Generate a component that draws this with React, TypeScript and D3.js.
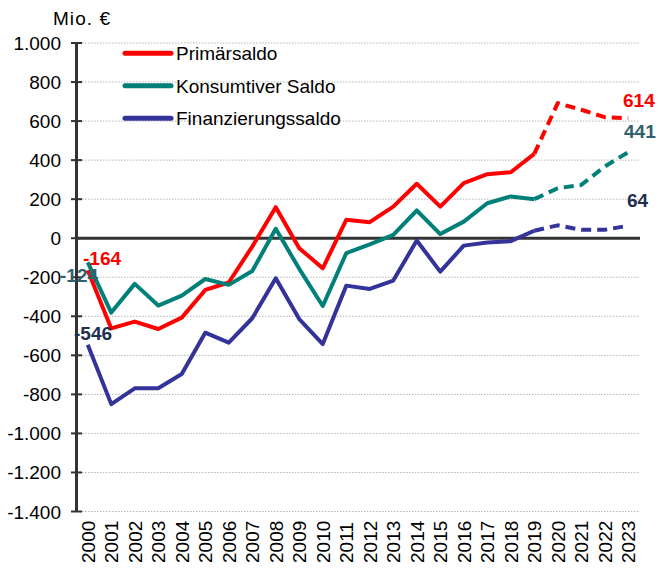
import React from "react";
import * as d3 from "d3";

const years = ["2000","2001","2002","2003","2004","2005","2006","2007","2008","2009","2010","2011","2012","2013","2014","2015","2016","2017","2018","2019","2020","2021","2022","2023"];
const primaersaldo = [-164,-462,-427,-465,-407,-265,-227,-43,159,-51,-154,94,82,162,279,162,282,328,338,432,692,658,620,614];
const konsumtiverSaldo = [-124,-381,-234,-345,-294,-209,-239,-168,48,-157,-347,-77,-31,17,142,21,85,179,214,200,256,273,367,441];
const finanzierungssaldo = [-546,-850,-769,-769,-696,-484,-535,-410,-205,-414,-542,-243,-260,-217,-12,-171,-38,-22,-15,38,66,43,43,64];
const yTicks = [1000,800,600,400,200,0,-200,-400,-600,-800,-1000,-1200,-1400];
const seriesNames = ["Primärsaldo","Konsumtiver Saldo","Finanzierungssaldo"];
const forecastStart = "2019";

const W = 658, H = 568;
const FONT = "'Liberation Sans', Arial, sans-serif";
const FS = 19;
const lineColors = ["#FF0000", "#008079", "#333399"];
const labelColors = ["#FF0000", "#31606E", "#1F2F4F"];

const fmt = (v: number) => {
  const s = Math.abs(v).toString().replace(/\B(?=(\d{3})+(?!\d))/g, ".");
  return (v < 0 ? "-" : "") + s;
};

export default function App() {
  const x = d3.scalePoint<string>().domain(years).range([76, 640]).padding(0.5);
  const y = d3.scaleLinear().domain([-1400, 1000]).range([511.5, 43]);
  const allSeries = [primaersaldo, konsumtiverSaldo, finanzierungssaldo];
  const split = years.indexOf(forecastStart);
  const lineOffset = (offset: number) =>
    d3.line<number>().x((_, i) => x(years[i + offset]) as number).y((d) => y(d));

  return (
    <svg width={W} height={H} style={{ position: "absolute", left: 0, top: 0, background: "#fff" }} fontFamily={FONT}>
      {/* gridlines */}
      {yTicks.filter((t) => t !== 0).map((t) => (
        <line key={"g" + t} x1={76} x2={640} y1={y(t)} y2={y(t)} stroke="#b5b5b5" strokeWidth={1} strokeDasharray="1.5,1.5" />
      ))}
      {/* y axis */}
      <line x1={76.5} x2={76.5} y1={y(1000)} y2={y(-1400)} stroke="#333" strokeWidth={3} />
      {yTicks.map((t) => (
        <g key={"t" + t}>
          <line x1={71} x2={82} y1={y(t)} y2={y(t)} stroke="#333" strokeWidth={2} />
          <text x={61} y={y(t) + 7} textAnchor="end" fontSize={FS} fill="#000">{fmt(t)}</text>
        </g>
      ))}
      <text x={53} y={25} fontSize={FS} fill="#000" textLength={57}>Mio. €</text>
      {/* x labels */}
      {years.map((yr) => (
        <text key={yr} transform={`translate(${(x(yr) as number) + 7},563) rotate(-90)`} fontSize={FS} fill="#000">{yr}</text>
      ))}
      {/* zero line */}
      <line x1={76} x2={640} y1={y(0)} y2={y(0)} stroke="#333" strokeWidth={3} />
      {/* series */}
      {allSeries.map((s, k) => (
        <g key={"s" + k}>
          <path d={lineOffset(0)(s.slice(0, split + 1)) as string} fill="none" stroke={lineColors[k]} strokeWidth={4} strokeLinejoin="round" />
          <path d={lineOffset(split)(s.slice(split)) as string} fill="none" stroke={lineColors[k]} strokeWidth={4} strokeDasharray="10,6" strokeLinejoin="round" />
        </g>
      ))}
      {/* legend */}
      {seriesNames.map((n, k) => (
        <g key={"l" + k}>
          <line x1={125} x2={171} y1={53.3 + k * 32.5} y2={53.3 + k * 32.5} stroke={lineColors[k]} strokeWidth={5} strokeLinecap="round" />
          <text x={176} y={53.3 + k * 32.5 + 7} fontSize={FS} fill="#000">{n}</text>
        </g>
      ))}
      {/* data labels */}
      <text x={83} y={265} fontSize={FS} fontWeight="bold" fill={labelColors[0]}>{fmt(primaersaldo[0])}</text>
      <text x={60} y={282} fontSize={FS} fontWeight="bold" fill={labelColors[1]}>{fmt(konsumtiverSaldo[0])}</text>
      <text x={74} y={340} fontSize={FS} fontWeight="bold" fill={labelColors[2]}>{fmt(finanzierungssaldo[0])}</text>
      <text x={623} y={107} fontSize={FS} fontWeight="bold" fill={labelColors[0]}>{fmt(primaersaldo[23])}</text>
      <text x={624} y={138} fontSize={FS} fontWeight="bold" fill={labelColors[1]}>{fmt(konsumtiverSaldo[23])}</text>
      <text x={627} y={207} fontSize={FS} fontWeight="bold" fill={labelColors[2]}>{fmt(finanzierungssaldo[23])}</text>
    </svg>
  );
}
